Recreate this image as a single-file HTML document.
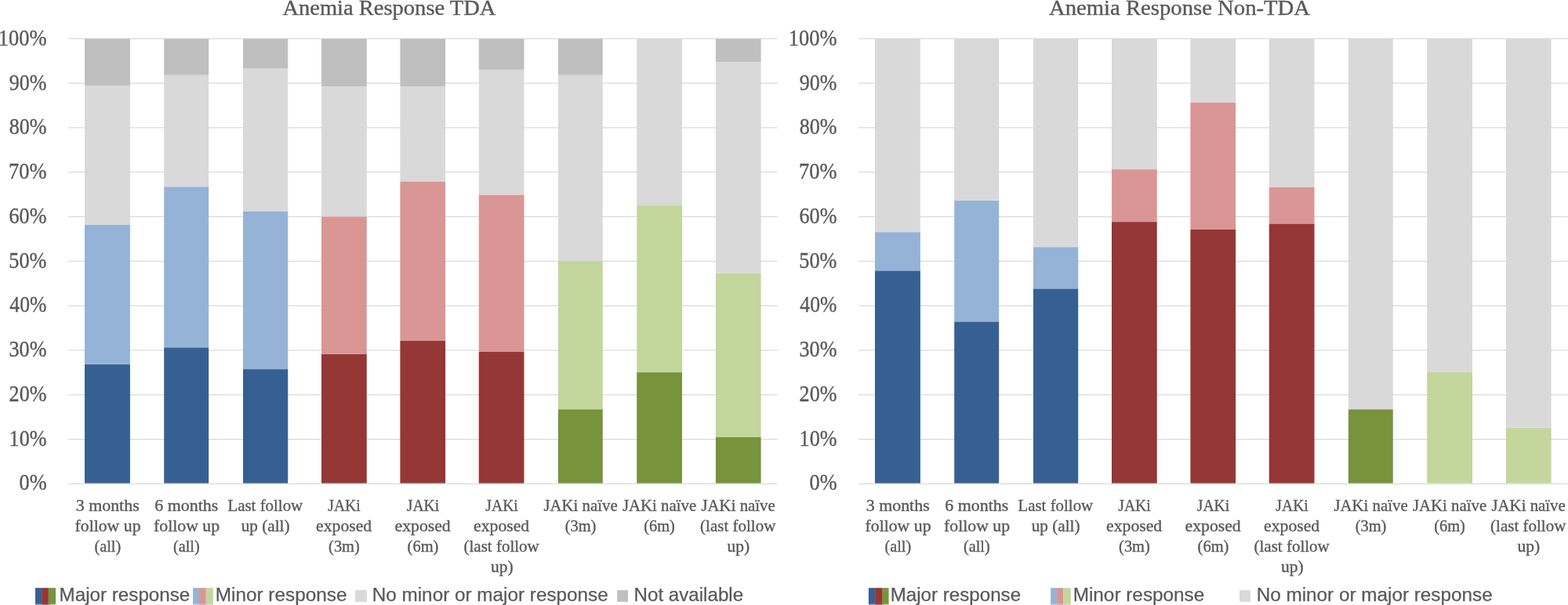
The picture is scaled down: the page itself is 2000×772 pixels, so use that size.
<!DOCTYPE html>
<html><head><meta charset="utf-8"><title>Anemia Response</title>
<style>html,body{margin:0;padding:0;background:#fff;width:2000px;height:772px;overflow:hidden;}svg{display:block;}</style>
</head><body>
<svg width="2000" height="772" viewBox="0 0 2000 772">
<style>
text{fill:#595959;}
.yl,.xl,.tt{stroke:#595959;stroke-width:0.35px;}
.lg{stroke:#595959;stroke-width:0.25px;}
.yl{font-family:"Liberation Serif",serif;font-size:28.6px;}
.xl{font-family:"Liberation Serif",serif;font-size:21.0px;}
.tt{font-family:"Liberation Serif",serif;font-size:27.8px;}
.lg{font-family:"Liberation Sans",sans-serif;font-size:24.2px;}
</style>
<rect width="2000" height="772" fill="#fff"/>
<rect x="87.10" y="616.80" width="904.6" height="1.2" fill="#D9D9D9"/>
<rect x="87.10" y="559.99" width="904.6" height="1.2" fill="#D9D9D9"/>
<rect x="87.10" y="503.18" width="904.6" height="1.2" fill="#D9D9D9"/>
<rect x="87.10" y="446.37" width="904.6" height="1.2" fill="#D9D9D9"/>
<rect x="87.10" y="389.56" width="904.6" height="1.2" fill="#D9D9D9"/>
<rect x="87.10" y="332.75" width="904.6" height="1.2" fill="#D9D9D9"/>
<rect x="87.10" y="275.94" width="904.6" height="1.2" fill="#D9D9D9"/>
<rect x="87.10" y="219.13" width="904.6" height="1.2" fill="#D9D9D9"/>
<rect x="87.10" y="162.32" width="904.6" height="1.2" fill="#D9D9D9"/>
<rect x="87.10" y="105.51" width="904.6" height="1.2" fill="#D9D9D9"/>
<rect x="87.10" y="48.70" width="904.6" height="1.2" fill="#D9D9D9"/>
<rect x="108.00" y="464.88" width="57.90" height="151.72" fill="#376092"/>
<rect x="108.00" y="286.81" width="57.90" height="178.07" fill="#95B3D7"/>
<rect x="108.00" y="109.31" width="57.90" height="177.50" fill="#D9D9D9"/>
<rect x="108.00" y="49.60" width="57.90" height="59.71" fill="#BFBFBF"/>
<rect x="209.20" y="443.29" width="57.00" height="173.31" fill="#376092"/>
<rect x="209.20" y="238.24" width="57.00" height="205.05" fill="#95B3D7"/>
<rect x="209.20" y="95.68" width="57.00" height="142.57" fill="#D9D9D9"/>
<rect x="209.20" y="49.60" width="57.00" height="46.08" fill="#BFBFBF"/>
<rect x="310.00" y="471.12" width="57.25" height="145.48" fill="#376092"/>
<rect x="310.00" y="269.48" width="57.25" height="201.64" fill="#95B3D7"/>
<rect x="310.00" y="87.16" width="57.25" height="182.33" fill="#D9D9D9"/>
<rect x="310.00" y="49.60" width="57.25" height="37.56" fill="#BFBFBF"/>
<rect x="410.00" y="451.81" width="57.75" height="164.79" fill="#953735"/>
<rect x="410.00" y="276.30" width="57.75" height="175.51" fill="#D99694"/>
<rect x="410.00" y="110.44" width="57.75" height="165.86" fill="#D9D9D9"/>
<rect x="410.00" y="49.60" width="57.75" height="60.84" fill="#BFBFBF"/>
<rect x="510.40" y="435.00" width="57.70" height="181.60" fill="#953735"/>
<rect x="510.40" y="231.43" width="57.70" height="203.57" fill="#D99694"/>
<rect x="510.40" y="110.44" width="57.70" height="120.98" fill="#D9D9D9"/>
<rect x="510.40" y="49.60" width="57.70" height="60.84" fill="#BFBFBF"/>
<rect x="610.75" y="448.97" width="57.75" height="167.63" fill="#953735"/>
<rect x="610.75" y="248.47" width="57.75" height="200.50" fill="#D99694"/>
<rect x="610.75" y="88.86" width="57.75" height="159.61" fill="#D9D9D9"/>
<rect x="610.75" y="49.60" width="57.75" height="39.26" fill="#BFBFBF"/>
<rect x="711.90" y="522.24" width="56.85" height="94.36" fill="#77933C"/>
<rect x="711.90" y="333.10" width="56.85" height="189.14" fill="#C3D69B"/>
<rect x="711.90" y="95.68" width="56.85" height="237.42" fill="#D9D9D9"/>
<rect x="711.90" y="49.60" width="56.85" height="46.08" fill="#BFBFBF"/>
<rect x="812.25" y="475.10" width="57.75" height="141.50" fill="#77933C"/>
<rect x="812.25" y="262.10" width="57.75" height="213.00" fill="#C3D69B"/>
<rect x="812.25" y="49.60" width="57.75" height="212.50" fill="#D9D9D9"/>
<rect x="912.90" y="557.46" width="57.70" height="59.14" fill="#77933C"/>
<rect x="912.90" y="348.72" width="57.70" height="208.74" fill="#C3D69B"/>
<rect x="912.90" y="78.92" width="57.70" height="269.80" fill="#D9D9D9"/>
<rect x="912.90" y="49.60" width="57.70" height="29.32" fill="#BFBFBF"/>
<rect x="1095.10" y="616.80" width="904.6" height="1.2" fill="#D9D9D9"/>
<rect x="1095.10" y="559.99" width="904.6" height="1.2" fill="#D9D9D9"/>
<rect x="1095.10" y="503.18" width="904.6" height="1.2" fill="#D9D9D9"/>
<rect x="1095.10" y="446.37" width="904.6" height="1.2" fill="#D9D9D9"/>
<rect x="1095.10" y="389.56" width="904.6" height="1.2" fill="#D9D9D9"/>
<rect x="1095.10" y="332.75" width="904.6" height="1.2" fill="#D9D9D9"/>
<rect x="1095.10" y="275.94" width="904.6" height="1.2" fill="#D9D9D9"/>
<rect x="1095.10" y="219.13" width="904.6" height="1.2" fill="#D9D9D9"/>
<rect x="1095.10" y="162.32" width="904.6" height="1.2" fill="#D9D9D9"/>
<rect x="1095.10" y="105.51" width="904.6" height="1.2" fill="#D9D9D9"/>
<rect x="1095.10" y="48.70" width="904.6" height="1.2" fill="#D9D9D9"/>
<rect x="1116.00" y="345.31" width="57.90" height="271.29" fill="#376092"/>
<rect x="1116.00" y="296.18" width="57.90" height="49.13" fill="#95B3D7"/>
<rect x="1116.00" y="49.60" width="57.90" height="246.58" fill="#D9D9D9"/>
<rect x="1217.20" y="410.35" width="57.00" height="206.25" fill="#376092"/>
<rect x="1217.20" y="255.85" width="57.00" height="154.50" fill="#95B3D7"/>
<rect x="1217.20" y="49.60" width="57.00" height="206.25" fill="#D9D9D9"/>
<rect x="1318.00" y="368.32" width="57.25" height="248.28" fill="#376092"/>
<rect x="1318.00" y="315.21" width="57.25" height="53.11" fill="#95B3D7"/>
<rect x="1318.00" y="49.60" width="57.25" height="265.61" fill="#D9D9D9"/>
<rect x="1418.00" y="283.12" width="57.75" height="333.48" fill="#953735"/>
<rect x="1418.00" y="216.09" width="57.75" height="67.02" fill="#D99694"/>
<rect x="1418.00" y="49.60" width="57.75" height="166.49" fill="#D9D9D9"/>
<rect x="1518.40" y="292.49" width="57.70" height="324.11" fill="#953735"/>
<rect x="1518.40" y="130.89" width="57.70" height="161.60" fill="#D99694"/>
<rect x="1518.40" y="49.60" width="57.70" height="81.29" fill="#D9D9D9"/>
<rect x="1618.75" y="285.39" width="57.75" height="331.21" fill="#953735"/>
<rect x="1618.75" y="238.81" width="57.75" height="46.58" fill="#D99694"/>
<rect x="1618.75" y="49.60" width="57.75" height="189.21" fill="#D9D9D9"/>
<rect x="1719.90" y="522.24" width="56.85" height="94.36" fill="#77933C"/>
<rect x="1719.90" y="49.60" width="56.85" height="472.64" fill="#D9D9D9"/>
<rect x="1820.25" y="475.10" width="57.75" height="141.50" fill="#C3D69B"/>
<rect x="1820.25" y="49.60" width="57.75" height="425.50" fill="#D9D9D9"/>
<rect x="1920.90" y="545.70" width="57.70" height="70.90" fill="#C3D69B"/>
<rect x="1920.90" y="49.60" width="57.70" height="496.10" fill="#D9D9D9"/>
<rect x="45.00" y="750.2" width="8.10" height="20.7" fill="#376092"/>
<rect x="53.10" y="750.2" width="8.80" height="20.7" fill="#953735"/>
<rect x="61.90" y="750.2" width="9.10" height="20.7" fill="#77933C"/>
<rect x="45.00" y="770.9" width="8.10" height="1.1" fill="#9FB3CF"/>
<rect x="53.10" y="770.9" width="8.80" height="1.1" fill="#977080"/>
<rect x="61.90" y="770.9" width="2.50" height="1.1" fill="#A89D70"/>
<rect x="64.40" y="770.9" width="6.60" height="1.1" fill="#C3D3A8"/>
<rect x="246.10" y="750.2" width="7.90" height="20.7" fill="#95B3D7"/>
<rect x="254.00" y="750.2" width="8.80" height="20.7" fill="#D99694"/>
<rect x="262.80" y="750.2" width="9.10" height="20.7" fill="#C3D69B"/>
<rect x="246.10" y="770.9" width="7.90" height="1.1" fill="#C9D8EA"/>
<rect x="254.00" y="770.9" width="8.80" height="1.1" fill="#D1B9C2"/>
<rect x="262.80" y="770.9" width="2.50" height="1.1" fill="#D2C9B2"/>
<rect x="265.30" y="770.9" width="6.60" height="1.1" fill="#E2EAD3"/>
<rect x="453" y="753.1" width="14.9" height="14.9" fill="#D9D9D9"/>
<rect x="787.2" y="753.1" width="13.8" height="14.8" fill="#BFBFBF"/>
<rect x="1107.90" y="750.2" width="8.20" height="20.7" fill="#376092"/>
<rect x="1116.10" y="750.2" width="8.90" height="20.7" fill="#953735"/>
<rect x="1125.00" y="750.2" width="8.60" height="20.7" fill="#77933C"/>
<rect x="1107.90" y="770.9" width="8.20" height="1.1" fill="#9FB3CF"/>
<rect x="1116.10" y="770.9" width="8.90" height="1.1" fill="#977080"/>
<rect x="1125.00" y="770.9" width="2.50" height="1.1" fill="#A89D70"/>
<rect x="1127.50" y="770.9" width="6.10" height="1.1" fill="#C3D3A8"/>
<rect x="1340.10" y="750.2" width="8.00" height="20.7" fill="#95B3D7"/>
<rect x="1348.10" y="750.2" width="8.20" height="20.7" fill="#D99694"/>
<rect x="1356.30" y="750.2" width="9.50" height="20.7" fill="#C3D69B"/>
<rect x="1340.10" y="770.9" width="8.00" height="1.1" fill="#C9D8EA"/>
<rect x="1348.10" y="770.9" width="8.20" height="1.1" fill="#D1B9C2"/>
<rect x="1356.30" y="770.9" width="2.50" height="1.1" fill="#D2C9B2"/>
<rect x="1358.80" y="770.9" width="7.00" height="1.1" fill="#E2EAD3"/>
<rect x="1581.1" y="753.1" width="13.8" height="14.8" fill="#D9D9D9"/>
<text x="24.53" y="625.40" class="yl" textLength="35.05" lengthAdjust="spacingAndGlyphs">0%</text>
<text x="11.57" y="568.65" class="yl" textLength="47.90" lengthAdjust="spacingAndGlyphs">10%</text>
<text x="11.58" y="511.90" class="yl" textLength="47.89" lengthAdjust="spacingAndGlyphs">20%</text>
<text x="11.52" y="455.15" class="yl" textLength="47.95" lengthAdjust="spacingAndGlyphs">30%</text>
<text x="12.34" y="398.40" class="yl" textLength="47.12" lengthAdjust="spacingAndGlyphs">40%</text>
<text x="11.28" y="341.65" class="yl" textLength="48.19" lengthAdjust="spacingAndGlyphs">50%</text>
<text x="11.56" y="284.90" class="yl" textLength="47.91" lengthAdjust="spacingAndGlyphs">60%</text>
<text x="11.00" y="228.15" class="yl" textLength="48.48" lengthAdjust="spacingAndGlyphs">70%</text>
<text x="11.63" y="171.40" class="yl" textLength="47.84" lengthAdjust="spacingAndGlyphs">80%</text>
<text x="11.78" y="114.65" class="yl" textLength="47.68" lengthAdjust="spacingAndGlyphs">90%</text>
<text x="-2.35" y="57.90" class="yl" textLength="61.81" lengthAdjust="spacingAndGlyphs">100%</text>
<text x="96.75" y="651.65" class="xl" textLength="80.90" lengthAdjust="spacingAndGlyphs">3 months</text>
<text x="95.53" y="677.90" class="xl" textLength="84.03" lengthAdjust="spacingAndGlyphs">follow up</text>
<text x="120.52" y="704.15" class="xl" textLength="33.67" lengthAdjust="spacingAndGlyphs">(all)</text>
<text x="197.36" y="651.65" class="xl" textLength="80.86" lengthAdjust="spacingAndGlyphs">6 months</text>
<text x="196.05" y="677.90" class="xl" textLength="84.03" lengthAdjust="spacingAndGlyphs">follow up</text>
<text x="221.04" y="704.15" class="xl" textLength="33.67" lengthAdjust="spacingAndGlyphs">(all)</text>
<text x="290.44" y="651.65" class="xl" textLength="95.75" lengthAdjust="spacingAndGlyphs">Last follow</text>
<text x="307.68" y="677.90" class="xl" textLength="61.85" lengthAdjust="spacingAndGlyphs">up (all)</text>
<text x="418.22" y="651.65" class="xl" textLength="41.58" lengthAdjust="spacingAndGlyphs">JAKi</text>
<text x="403.10" y="677.90" class="xl" textLength="71.09" lengthAdjust="spacingAndGlyphs">exposed</text>
<text x="419.08" y="704.15" class="xl" textLength="39.77" lengthAdjust="spacingAndGlyphs">(3m)</text>
<text x="518.74" y="651.65" class="xl" textLength="41.58" lengthAdjust="spacingAndGlyphs">JAKi</text>
<text x="503.62" y="677.90" class="xl" textLength="71.09" lengthAdjust="spacingAndGlyphs">exposed</text>
<text x="519.60" y="704.15" class="xl" textLength="39.77" lengthAdjust="spacingAndGlyphs">(6m)</text>
<text x="619.26" y="651.65" class="xl" textLength="41.58" lengthAdjust="spacingAndGlyphs">JAKi</text>
<text x="604.14" y="677.90" class="xl" textLength="71.09" lengthAdjust="spacingAndGlyphs">exposed</text>
<text x="591.56" y="704.15" class="xl" textLength="96.23" lengthAdjust="spacingAndGlyphs">(last follow</text>
<text x="625.94" y="730.40" class="xl" textLength="28.63" lengthAdjust="spacingAndGlyphs">up)</text>
<text x="693.40" y="651.65" class="xl" textLength="94.37" lengthAdjust="spacingAndGlyphs">JAKi naïve</text>
<text x="720.64" y="677.90" class="xl" textLength="39.77" lengthAdjust="spacingAndGlyphs">(3m)</text>
<text x="793.92" y="651.65" class="xl" textLength="94.37" lengthAdjust="spacingAndGlyphs">JAKi naïve</text>
<text x="821.16" y="677.90" class="xl" textLength="39.77" lengthAdjust="spacingAndGlyphs">(6m)</text>
<text x="894.44" y="651.65" class="xl" textLength="94.37" lengthAdjust="spacingAndGlyphs">JAKi naïve</text>
<text x="893.12" y="677.90" class="xl" textLength="96.23" lengthAdjust="spacingAndGlyphs">(last follow</text>
<text x="927.50" y="704.15" class="xl" textLength="28.63" lengthAdjust="spacingAndGlyphs">up)</text>
<text x="360.42" y="18.85" class="tt" textLength="271.96" lengthAdjust="spacingAndGlyphs">Anemia Response TDA</text>
<text x="1032.53" y="625.40" class="yl" textLength="35.05" lengthAdjust="spacingAndGlyphs">0%</text>
<text x="1019.57" y="568.65" class="yl" textLength="47.90" lengthAdjust="spacingAndGlyphs">10%</text>
<text x="1019.58" y="511.90" class="yl" textLength="47.89" lengthAdjust="spacingAndGlyphs">20%</text>
<text x="1019.52" y="455.15" class="yl" textLength="47.95" lengthAdjust="spacingAndGlyphs">30%</text>
<text x="1020.34" y="398.40" class="yl" textLength="47.12" lengthAdjust="spacingAndGlyphs">40%</text>
<text x="1019.28" y="341.65" class="yl" textLength="48.19" lengthAdjust="spacingAndGlyphs">50%</text>
<text x="1019.56" y="284.90" class="yl" textLength="47.91" lengthAdjust="spacingAndGlyphs">60%</text>
<text x="1019.00" y="228.15" class="yl" textLength="48.48" lengthAdjust="spacingAndGlyphs">70%</text>
<text x="1019.63" y="171.40" class="yl" textLength="47.84" lengthAdjust="spacingAndGlyphs">80%</text>
<text x="1019.78" y="114.65" class="yl" textLength="47.68" lengthAdjust="spacingAndGlyphs">90%</text>
<text x="1005.65" y="57.90" class="yl" textLength="61.81" lengthAdjust="spacingAndGlyphs">100%</text>
<text x="1104.75" y="651.65" class="xl" textLength="80.90" lengthAdjust="spacingAndGlyphs">3 months</text>
<text x="1103.53" y="677.90" class="xl" textLength="84.03" lengthAdjust="spacingAndGlyphs">follow up</text>
<text x="1128.52" y="704.15" class="xl" textLength="33.67" lengthAdjust="spacingAndGlyphs">(all)</text>
<text x="1205.36" y="651.65" class="xl" textLength="80.86" lengthAdjust="spacingAndGlyphs">6 months</text>
<text x="1204.05" y="677.90" class="xl" textLength="84.03" lengthAdjust="spacingAndGlyphs">follow up</text>
<text x="1229.04" y="704.15" class="xl" textLength="33.67" lengthAdjust="spacingAndGlyphs">(all)</text>
<text x="1298.44" y="651.65" class="xl" textLength="95.75" lengthAdjust="spacingAndGlyphs">Last follow</text>
<text x="1315.68" y="677.90" class="xl" textLength="61.85" lengthAdjust="spacingAndGlyphs">up (all)</text>
<text x="1426.22" y="651.65" class="xl" textLength="41.58" lengthAdjust="spacingAndGlyphs">JAKi</text>
<text x="1411.10" y="677.90" class="xl" textLength="71.09" lengthAdjust="spacingAndGlyphs">exposed</text>
<text x="1427.08" y="704.15" class="xl" textLength="39.77" lengthAdjust="spacingAndGlyphs">(3m)</text>
<text x="1526.74" y="651.65" class="xl" textLength="41.58" lengthAdjust="spacingAndGlyphs">JAKi</text>
<text x="1511.62" y="677.90" class="xl" textLength="71.09" lengthAdjust="spacingAndGlyphs">exposed</text>
<text x="1527.60" y="704.15" class="xl" textLength="39.77" lengthAdjust="spacingAndGlyphs">(6m)</text>
<text x="1627.26" y="651.65" class="xl" textLength="41.58" lengthAdjust="spacingAndGlyphs">JAKi</text>
<text x="1612.14" y="677.90" class="xl" textLength="71.09" lengthAdjust="spacingAndGlyphs">exposed</text>
<text x="1599.56" y="704.15" class="xl" textLength="96.23" lengthAdjust="spacingAndGlyphs">(last follow</text>
<text x="1633.94" y="730.40" class="xl" textLength="28.63" lengthAdjust="spacingAndGlyphs">up)</text>
<text x="1701.40" y="651.65" class="xl" textLength="94.37" lengthAdjust="spacingAndGlyphs">JAKi naïve</text>
<text x="1728.64" y="677.90" class="xl" textLength="39.77" lengthAdjust="spacingAndGlyphs">(3m)</text>
<text x="1801.92" y="651.65" class="xl" textLength="94.37" lengthAdjust="spacingAndGlyphs">JAKi naïve</text>
<text x="1829.16" y="677.90" class="xl" textLength="39.77" lengthAdjust="spacingAndGlyphs">(6m)</text>
<text x="1902.44" y="651.65" class="xl" textLength="94.37" lengthAdjust="spacingAndGlyphs">JAKi naïve</text>
<text x="1901.12" y="677.90" class="xl" textLength="96.23" lengthAdjust="spacingAndGlyphs">(last follow</text>
<text x="1935.50" y="704.15" class="xl" textLength="28.63" lengthAdjust="spacingAndGlyphs">up)</text>
<text x="1337.92" y="18.85" class="tt" textLength="333.13" lengthAdjust="spacingAndGlyphs">Anemia Response Non-TDA</text>
<text x="75.60" y="767.20" class="lg" textLength="166.70" lengthAdjust="spacingAndGlyphs">Major response</text>
<text x="274.70" y="767.20" class="lg" textLength="167.81" lengthAdjust="spacingAndGlyphs">Minor response</text>
<text x="474.70" y="767.20" class="lg" textLength="301.08" lengthAdjust="spacingAndGlyphs">No minor or major response</text>
<text x="808.61" y="767.20" class="lg" textLength="139.49" lengthAdjust="spacingAndGlyphs">Not available</text>
<text x="1135.71" y="767.20" class="lg" textLength="166.39" lengthAdjust="spacingAndGlyphs">Major response</text>
<text x="1368.70" y="767.20" class="lg" textLength="167.61" lengthAdjust="spacingAndGlyphs">Minor response</text>
<text x="1602.70" y="767.20" class="lg" textLength="300.98" lengthAdjust="spacingAndGlyphs">No minor or major response</text>
</svg>
</body></html>
